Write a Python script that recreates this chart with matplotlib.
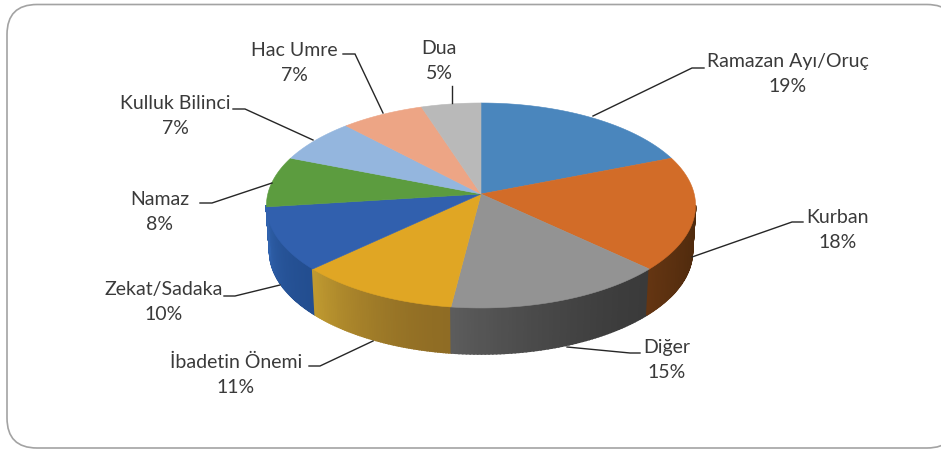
import numpy as np
import matplotlib
matplotlib.use('Agg')
import matplotlib.pyplot as plt
from matplotlib.colors import to_rgb
from matplotlib.patches import FancyBboxPatch

categories = ['Ramazan Ayı/Oruç', 'Kurban', 'Diğer', 'İbadetin Önemi', 'Zekat/Sadaka',
              'Namaz', 'Kulluk Bilinci', 'Hac Umre', 'Dua']
values = [19, 18, 15, 11, 10, 8, 7, 7, 5]
colors = ['#4a86bd', '#d26c28', '#939393', '#e0a624', '#3160ae',
          '#5c9c3f', '#94b6de', '#eda585', '#b9b9b9']
# side wall shading, start and end of each slice going clockwise
wall_start = ['#4a86bd', '#4f2a0d', '#3a3a3a', '#8f6c24', '#234e90',
              '#3163ae', '#94b6de', '#eda585', '#b9b9b9']
wall_end = ['#4a86bd', '#643512', '#5c5c5c', '#c09a30', '#3163ae',
            '#3163ae', '#94b6de', '#eda585', '#b9b9b9']

# label centre, then leader line from the pie out to the label
label_xy = [(788, 74), (838, 230), (667, 360), (236, 375), (164, 302),
            (160, 212), (175, 116), (294, 63), (439, 61)]
leaders = [[(593, 116), (692, 68), (704, 68)],
           [(692, 257), (792, 222), (803, 222)],
           [(567, 347), (630, 353), (640, 353)],
           [(373, 341), (320, 366), (309, 366)],
           [(280, 285), (235, 296), (224, 296)],
           [(272, 183), (212, 203), (200, 203)],
           [(313, 140), (245, 109), (233, 109)],
           [(383, 113), (355, 54), (343, 54)],
           [(452, 103), (452, 86)]]

cx, cy = 481, 194
rx, ry, k = 213.2, 101.2, 0.112
depth = 46


def rim(theta):
    # theta is clockwise from the top, perspective view of a flat disc
    u, v = np.sin(theta), np.cos(theta)
    w = 1 + k * v
    return cx + rx * u / w, cy - ry * v / w


fig = plt.figure(figsize=(9.41, 4.5), dpi=100)
ax = fig.add_axes([0, 0, 1, 1])
ax.set_xlim(0, 941)
ax.set_ylim(450, 0)
ax.axis('off')

# the frame runs off the right edge of the picture
ax.add_patch(FancyBboxPatch((7, 4.5), 950, 443.5, boxstyle='round,pad=0,rounding_size=30',
                            fc='white', ec='#a3a3a3', lw=1.2))

edges = np.radians(np.concatenate([[0], np.cumsum(values)]) * 3.6)
vis0, vis1 = np.pi - np.arccos(k), np.pi + np.arccos(k)

# side walls first, the top face covers what sticks out behind it
for i in range(len(values)):
    a0, a1 = max(edges[i], vis0), min(edges[i + 1], vis1)
    if a1 <= a0:
        continue
    th = np.linspace(a0, a1, 60)
    x, y = rim(th)
    xb = cx + (x - cx) * 0.985
    yb = y + depth
    c0, c1 = np.array(to_rgb(wall_start[i])), np.array(to_rgb(wall_end[i]))
    for j in range(len(th) - 1):
        t = ((j + 0.5) / (len(th) - 1)) ** 1.6
        col = c0 + (c1 - c0) * t
        ax.fill([x[j], x[j + 1], xb[j + 1], xb[j]], [y[j], y[j + 1], yb[j + 1], yb[j]],
                color=col, lw=1.2, zorder=2 + j * 0.001)

for i in range(len(values)):
    th = np.linspace(edges[i], edges[i + 1], 80)
    x, y = rim(th)
    ax.fill(np.r_[cx, x], np.r_[cy, y], color=colors[i], lw=0.4, zorder=3)

for pts in leaders:
    xs, ys = zip(*pts)
    ax.plot(xs, ys, color='#262626', lw=1.0, zorder=4, solid_joinstyle='miter')

for name, val, (lx, ly) in zip(categories, values, label_xy):
    ax.text(lx, ly, name + '\n' + str(val) + '%', ha='center', va='center', family='Lato',
            fontsize=14, color='#3a3a3a', linespacing=1.6, zorder=5)

fig.savefig('out.png', dpi=100)
